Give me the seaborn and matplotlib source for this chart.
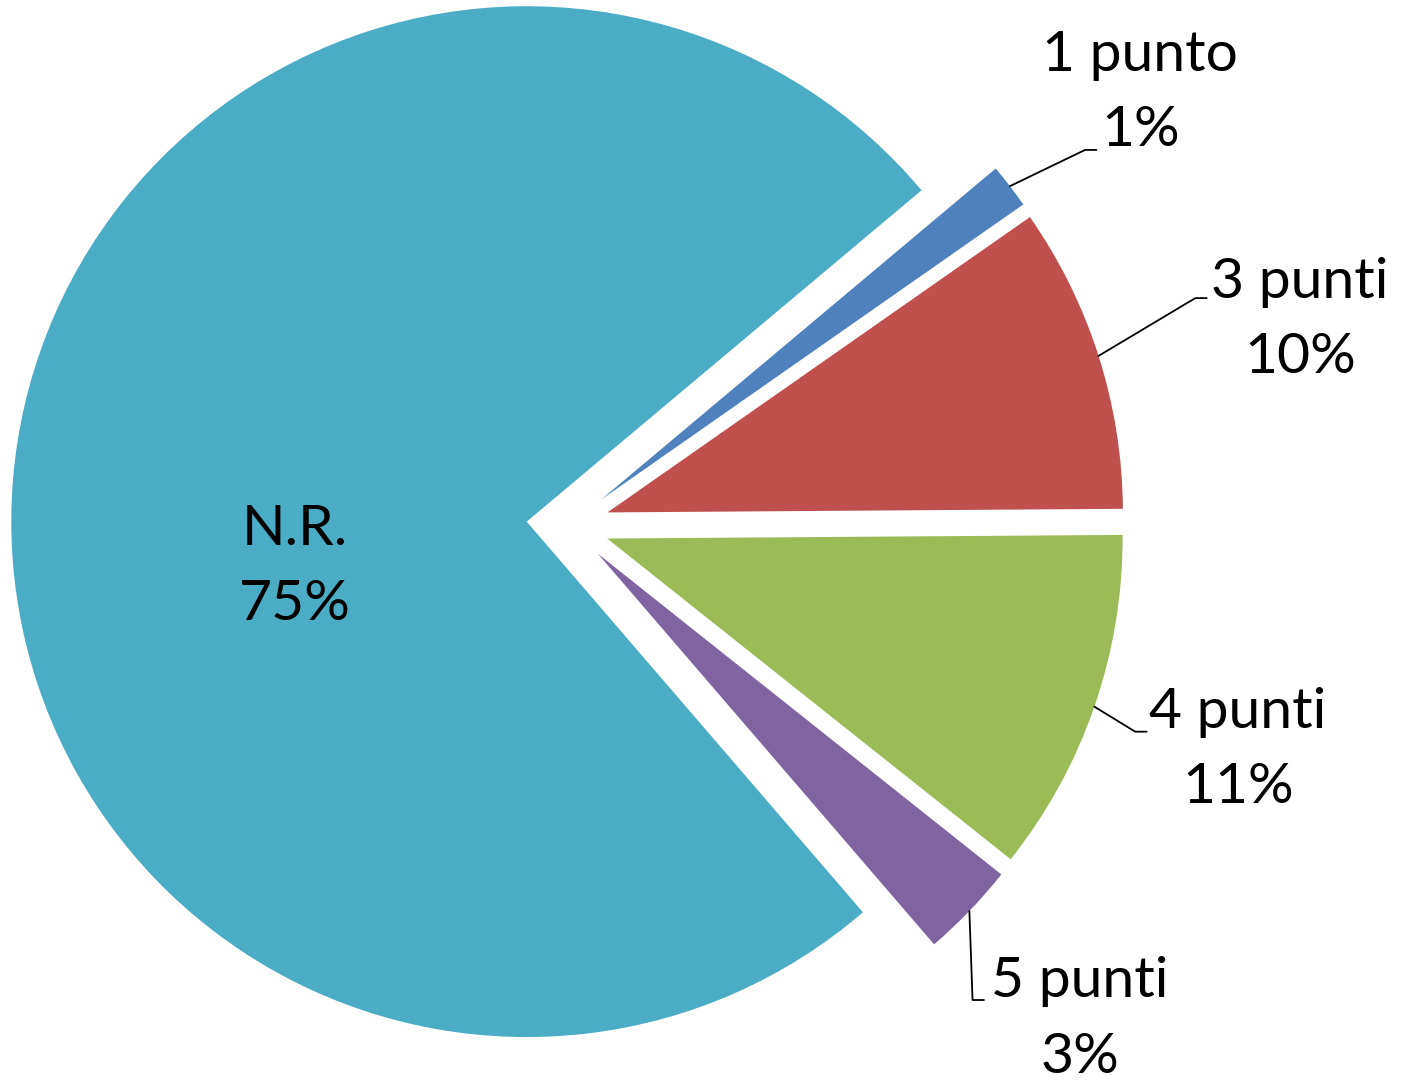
"""Exploded pie chart of points distribution."""

import numpy as np
import matplotlib
matplotlib.use("Agg")
import matplotlib.pyplot as plt
import seaborn as sns

categories = ["1 punto", "3 punti", "4 punti", "5 punti", "N.R."]
values = [1.4, 9.6, 10.8, 3.0, 75.2]
pct_labels = ["1%", "10%", "11%", "3%", "75%"]
colors = ["#4F81BD", "#C0504D", "#9BBB59", "#8064A2", "#4BACC6"]

# label layout (data units, radius = 1): text centre, leader elbow
LABEL_POS = {
    "1 punto": ((1.105, 0.834), (0.998, 0.724)),
    "3 punti": ((1.413, 0.396), (1.211, 0.438)),
    "4 punti": ((1.293, -0.434), (1.095, -0.399)),
    "5 punti": ((0.988, -0.955), (0.781, -0.917)),
    "N.R.": ((-0.527, -0.081), None),
}


def _main() -> None:
    sns.set_theme(style="white")
    plt.rcParams["font.family"] = ["Lato", "DejaVu Sans"]
    fig = plt.figure(figsize=(14.08, 10.86), dpi=100)
    ax = fig.add_axes([0, 0, 1, 1])
    wedges, _ = ax.pie(values, colors=colors, startangle=40,
                       counterclock=False, explode=[0.08] * len(values),
                       radius=0.995, wedgeprops=dict(linewidth=0))
    ax.set_xlim(-1.0965, 1.6216)
    ax.set_ylim(-1.083, 1.0135)
    ax.axis("off")

    for w, cat, pct in zip(wedges, categories, pct_labels):
        text_xy, elbow = LABEL_POS[cat]
        ax.text(text_xy[0], text_xy[1], f"{cat}\n{pct}", ha="center",
                va="center", fontsize=41, linespacing=1.6, color="black")
        if elbow is None:
            continue
        mid = np.deg2rad((w.theta1 + w.theta2) / 2)
        cx, cy = w.center
        sx = cx + w.r * np.cos(mid)
        sy = cy + w.r * np.sin(mid)
        ex = elbow[0] + 0.022
        ax.plot([sx, elbow[0], ex], [sy, elbow[1], elbow[1]],
                color="black", linewidth=1.3)

    fig.savefig("out.png", dpi=100, facecolor="white")


if __name__ == "__main__":
    _main()
